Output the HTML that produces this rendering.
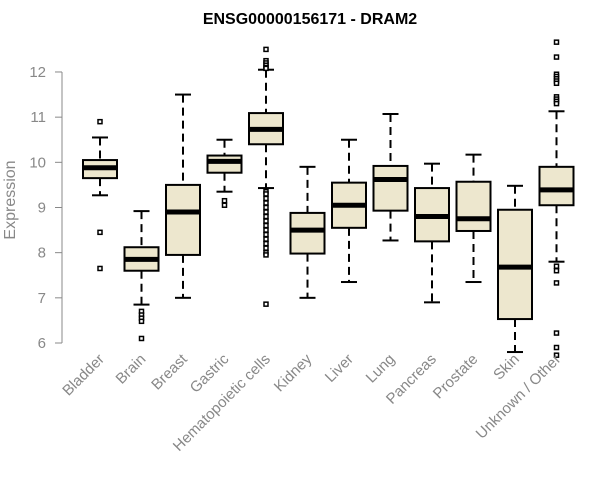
<!DOCTYPE html>
<html><head><meta charset="utf-8"><style>
body{margin:0;background:#fff;}
svg{display:block;font-family:"Liberation Sans",sans-serif;}
</style></head><body>
<svg id="chart" width="600" height="500">
<text x="310" y="24" text-anchor="middle" font-weight="bold" font-size="16">ENSG00000156171 - DRAM2</text>
<text transform="translate(15,200) rotate(-90)" text-anchor="middle" font-size="16" fill="#888">Expression</text>
<g id="yaxis"></g>
<g id="boxes"></g>
<g id="xlabels"></g>
</svg>
<script>
const categories=["Bladder","Brain","Breast","Gastric","Hematopoietic cells","Kidney","Liver","Lung","Pancreas","Prostate","Skin","Unknown / Other"];
const whiskerLow=[9.27,6.85,7.0,9.35,9.43,7.0,7.35,8.27,6.9,7.35,5.8,7.8];
const q1=[9.65,7.6,7.95,9.77,10.4,7.98,8.55,8.93,8.25,8.48,6.53,9.05];
const medians=[9.88,7.85,8.9,10.02,10.73,8.5,9.05,9.62,8.8,8.75,7.68,9.39];
const q3=[10.05,8.12,9.5,10.15,11.09,8.88,9.55,9.92,9.43,9.57,8.95,9.9];
const whiskerHigh=[10.55,8.92,11.5,10.5,12.05,9.9,10.5,11.07,9.97,10.17,9.48,11.13];
const outliers=[[10.9,8.45,7.65],[6.7,6.62,6.55,6.48,6.1],[],[9.15,9.05],
[12.5,12.25,12.2,12.15,12.1,12.08,9.35,9.3,9.2,9.1,9.0,8.9,8.8,8.7,8.6,8.5,8.4,8.3,8.2,8.1,8.0,7.95,6.86],
[],[],[],[],[],[],
[12.66,12.33,11.95,11.9,11.85,11.8,11.75,11.45,11.4,11.35,11.3,7.7,7.6,7.33,6.22,5.9,5.73]];
const yTicks=[6,7,8,9,10,11,12];
const NS="http://www.w3.org/2000/svg";
function y(v){return 343-(v-6)*45.17;}
function x(i){return 100+i*41.5;}
function mk(tag,attrs,parent){const e=document.createElementNS(NS,tag);for(const k in attrs)e.setAttribute(k,attrs[k]);parent.appendChild(e);return e;}
const ya=document.getElementById('yaxis');
let l=mk('line',{x1:62,x2:62,y1:y(12),y2:y(6),stroke:'#888','stroke-width':1},ya);


yTicks.forEach(t=>{
 const tk=mk('line',{x1:55,x2:62,y1:y(t),y2:y(t),stroke:'#888'},ya);
 
 
 const tx=mk('text',{x:46,y:y(t)+5,'text-anchor':'end','font-size':15,fill:'#888'},ya);
 tx.textContent=t;
 
 
});
const bx=document.getElementById('boxes');
const xl=document.getElementById('xlabels');
categories.forEach((c,i)=>{
 const cx=x(i),w=17;
 const g=mk('g',{},bx);
 
 
 mk('line',{x1:cx,x2:cx,y1:y(whiskerHigh[i]),y2:y(q3[i]),stroke:'#000','stroke-width':2,'stroke-dasharray':'8,5'},g);
 mk('line',{x1:cx,x2:cx,y1:y(q1[i]),y2:y(whiskerLow[i]),stroke:'#000','stroke-width':2,'stroke-dasharray':'8,5'},g);
 mk('line',{x1:cx-8,x2:cx+8,y1:y(whiskerHigh[i]),y2:y(whiskerHigh[i]),stroke:'#000','stroke-width':2},g);
 mk('line',{x1:cx-8,x2:cx+8,y1:y(whiskerLow[i]),y2:y(whiskerLow[i]),stroke:'#000','stroke-width':2},g);
 mk('rect',{x:cx-w,y:y(q3[i]),width:2*w,height:y(q1[i])-y(q3[i]),fill:'#EDE7CE',stroke:'#000','stroke-width':2},g);
 mk('line',{x1:cx-w,x2:cx+w,y1:y(medians[i]),y2:y(medians[i]),stroke:'#000','stroke-width':5},g);
 outliers[i].forEach(o=>{mk('rect',{x:cx-2,y:y(o)-2,width:4,height:4,fill:'#fff',stroke:'#000','stroke-width':1.5},g);});
 const t=mk('text',{transform:`translate(${cx+5},${360}) rotate(-45)`,'text-anchor':'end','font-size':15,fill:'#888'},xl);
 t.textContent=c;
 
 
});
</script>
</body></html>
